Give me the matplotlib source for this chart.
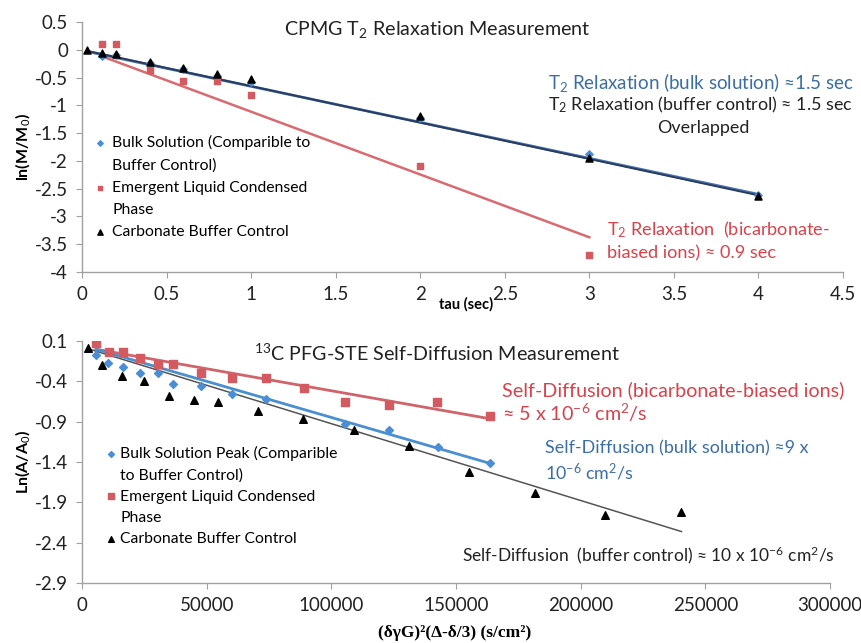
import matplotlib
matplotlib.use("Agg")
import matplotlib.pyplot as plt
from matplotlib.lines import Line2D
import numpy as np

plt.rcParams['font.family'] = ['Lato', 'DejaVu Sans']
plt.rcParams['mathtext.fontset'] = 'custom'
plt.rcParams['mathtext.rm'] = 'Lato'
plt.rcParams['mathtext.it'] = 'Lato'
plt.rcParams['mathtext.bf'] = 'Lato:bold'

# ---------------- Top chart data (CPMG T2) ----------------
tau_blue = [0.12, 0.2, 0.4, 0.6, 0.8, 1.0, 2.0, 3.0, 4.0]
ln_blue = [-0.11, -0.09, -0.24, -0.35, -0.47, -0.58, -1.22, -1.87, -2.62]
tau_red = [0.12, 0.2, 0.4, 0.6, 0.8, 1.0, 2.0, 3.0]
ln_red = [0.10, 0.10, -0.37, -0.57, -0.57, -0.82, -2.10, -3.69]
tau_black = [0.03, 0.12, 0.2, 0.4, 0.6, 0.8, 1.0, 2.0, 3.0, 4.0]
ln_black = [0.0, -0.06, -0.08, -0.22, -0.33, -0.43, -0.53, -1.20, -1.94, -2.64]

# linear fits (slope, intercept, x start, x end)
fit_top_blue = [-0.648, -0.01, 0.03, 4.0]
fit_top_black = [-0.655, 0.0, 0.03, 4.0]
fit_top_red = [-1.13, 0.015, 0.12, 3.0]

# ---------------- Bottom chart data (PFG-STE) ----------------
q_blue = [5620, 10570, 16590, 23290, 30400, 36670, 47910, 60360, 73770, 105620, 123290, 142700, 163590]
lnA_blue = [-0.077, -0.17, -0.22, -0.30, -0.30, -0.44, -0.456, -0.56, -0.617, -0.93, -1.00, -1.22, -1.41]
q_red = [5620, 10840, 16590, 23290, 30400, 36670, 47910, 60360, 73770, 88880, 105620, 123290, 142450, 163590]
lnA_red = [0.068, -0.04, -0.044, -0.12, -0.19, -0.19, -0.30, -0.36, -0.365, -0.49, -0.66, -0.70, -0.66, -0.83]
q_black = [2530, 8150, 15940, 24900, 34940, 44980, 54740, 70400, 88600, 108960, 131050, 155140, 181530, 209640, 240440]
lnA_black = [0.006, -0.20, -0.336, -0.398, -0.59, -0.633, -0.654, -0.765, -0.872, -1.00, -1.20, -1.52, -1.78, -2.05, -2.02]

fit_bot_red = [-5.44e-6, 0.025, 5620, 163590]
fit_bot_blue = [-8.93e-6, 0.044, 5620, 163590]
fit_bot_black = [-9.5e-6, 0.024, 2500, 240440]

legend_top = [["Bulk Solution (Comparible to", "Buffer Control)"],
              ["Emergent Liquid Condensed", "Phase"],
              ["Carbonate Buffer Control"]]
legend_bot = [["Bulk Solution Peak (Comparible", "to Buffer Control)"],
              ["Emergent Liquid Condensed", "Phase"],
              ["Carbonate Buffer Control"]]

C_BLUE = '#4a8fd6'
C_RED = '#d45a62'
C_BLACK = '#000000'
AX_COL = '#a0a0a0'
T_RED = '#d9424b'
T_BLUE = '#3b6ea5'

fig = plt.figure(figsize=(8.61, 6.43), dpi=100)
ax1 = fig.add_axes([82/861, 1 - 272/643, (843 - 82)/861, (272 - 22)/643])
ax2 = fig.add_axes([82/861, 1 - 583.3/643, (830 - 82)/861, (583.3 - 340.7)/643])


def style(ax):
    for s in ['top', 'right']:
        ax.spines[s].set_visible(False)
    for s in ['left', 'bottom']:
        ax.spines[s].set_color(AX_COL)
        ax.spines[s].set_linewidth(1.0)
    ax.tick_params(axis='both', direction='out', length=4, color=AX_COL, labelsize=13.5,
                   labelcolor='#222222', pad=6)


def fitline(ax, p, color, lw):
    xs = np.array([p[2], p[3]])
    ax.plot(xs, p[0] * xs + p[1], color=color, lw=lw, zorder=2)


def ftext(x, y, s, **kw):
    fig.text(x/861, 1 - y/643, s, va='center', **kw)


def make_legend(ax, handles, groups, anchor, pad, spacing):
    hs, ls = [], []
    blank = Line2D([], [], linestyle='none')
    for h, g in zip(handles, groups):
        hs.append(h)
        ls.append(g[0])
        for extra in g[1:]:
            hs.append(blank)
            ls.append(extra)
    ax.legend(hs, ls, loc='upper left', bbox_to_anchor=anchor, frameon=False,
              fontsize=11.3, handletextpad=pad, handlelength=0.6, labelspacing=spacing,
              borderaxespad=0, borderpad=0, markerscale=0.75)


# ---------------- Top ----------------
style(ax1)
fitline(ax1, fit_top_red, '#d96a70', 1.8)
fitline(ax1, fit_top_blue, '#4a76ad', 2.0)
fitline(ax1, fit_top_black, '#2a3c60', 1.4)
h1 = ax1.scatter(tau_blue, ln_blue, marker='D', s=14, color=C_BLUE, zorder=3)
h2 = ax1.scatter(tau_red, ln_red, marker='s', s=22, color=C_RED, zorder=3)
h3 = ax1.scatter(tau_black, ln_black, marker='^', s=26, color=C_BLACK, zorder=4)
ax1.set_xlim(0, 4.5)
ax1.set_ylim(-4, 0.5)
ax1.set_xticks(np.arange(0, 4.51, 0.5))
ax1.set_xticklabels(['0', '0.5', '1', '1.5', '2', '2.5', '3', '3.5', '4', '4.5'])
ax1.set_yticks(np.arange(-4, 0.51, 0.5))
ax1.set_yticklabels(['-4', '-3.5', '-3', '-2.5', '-2', '-1.5', '-1', '-0.5', '0', '0.5'])
ax1.set_ylabel('ln(M/M$_0$)', fontsize=11.5, fontweight='bold', labelpad=2)
ftext(466, 304, 'tau (sec)', fontsize=10.5, fontweight='bold', ha='center')
ftext(437, 30, 'CPMG T$_2$ Relaxation Measurement', fontsize=14.2, ha='center', color='#222222')
ftext(548, 82, 'T$_2$ Relaxation (bulk solution) \u22481.5 sec', fontsize=13.5, ha='left', color=T_BLUE)
ftext(548, 105, 'T$_2$ Relaxation (buffer control) \u2248 1.5 sec', fontsize=12.9, ha='left', color='#222222')
ftext(703, 128, 'Overlapped', fontsize=12.9, ha='center', color='#222222')
ftext(607, 230, 'T$_2$ Relaxation  (bicarbonate-', fontsize=13.1, ha='left', color=T_RED)
ftext(607, 253, 'biased ions) \u2248 0.9 sec', fontsize=13.1, ha='left', color=T_RED)
make_legend(ax1, [h1, h2, h3], legend_top, ((94.8 - 82) / 761, (272 - 135) / 250), 0.5, 0.52)

# ---------------- Bottom ----------------
style(ax2)
fitline(ax2, fit_bot_red, '#d0646b', 2.0)
fitline(ax2, fit_bot_black, '#555555', 1.1)
fitline(ax2, fit_bot_blue, '#4a8fd0', 2.0)
g1 = ax2.scatter(q_blue, lnA_blue, marker='D', s=16, color=C_BLUE, zorder=3)
g2 = ax2.scatter(q_red, lnA_red, marker='s', s=30, color=C_RED, zorder=3)
g3 = ax2.scatter(q_black, lnA_black, marker='^', s=30, color=C_BLACK, zorder=4)
ax2.set_xlim(0, 300000)
ax2.set_ylim(-2.9, 0.1)
ax2.set_xticks(np.arange(0, 300001, 50000))
ax2.set_xticklabels(['0', '50000', '100000', '150000', '200000', '250000', '300000'])
ax2.set_yticks([-2.9, -2.4, -1.9, -1.4, -0.9, -0.4, 0.1])
ax2.set_yticklabels(['-2.9', '-2.4', '-1.9', '-1.4', '-0.9', '-0.4', '0.1'])
ax2.set_ylabel('Ln(A/A$_0$)', fontsize=11.5, fontweight='bold', labelpad=2)
ftext(455, 633, '(\u03b4\u03b3G)\u00b2(\u0394-\u03b4/3) (s/cm\u00b2)', fontsize=12.5, fontweight='bold',
      family='Liberation Serif', ha='center')
ftext(437, 353, '$^{13}$C PFG-STE Self-Diffusion Measurement', fontsize=14.2, ha='center', color='#222222')
ftext(502, 390, 'Self-Diffusion (bicarbonate-biased ions)', fontsize=14.2, ha='left', color=T_RED)
ftext(502, 413, '\u2248 5 x 10$^{-6}$ cm$^2$/s', fontsize=14.2, ha='left', color=T_RED)
ftext(545, 448, 'Self-Diffusion (bulk solution) \u22489 x', fontsize=12.9, ha='left', color=T_BLUE)
ftext(545, 472, '10$^{-6}$ cm$^2$/s', fontsize=12.9, ha='left', color=T_BLUE)
ftext(462, 555, 'Self-Diffusion  (buffer control) \u2248 10 x 10$^{-6}$ cm$^2$/s', fontsize=12.5,
      ha='left', color='#222222')
make_legend(ax2, [g1, g2, g3], legend_bot, ((106.7 - 82) / 748, (583.3 - 446) / 242.6), 0.25, 0.45)

fig.savefig('out.png', dpi=100)
